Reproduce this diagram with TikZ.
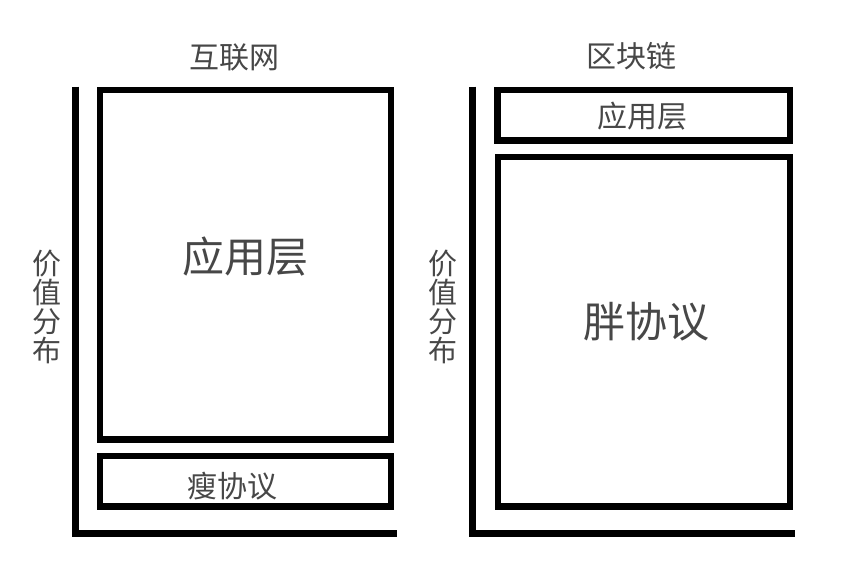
\documentclass[tikz,border=0pt]{standalone}
\usepackage{fontspec}
\newfontfamily\cjk{Noto Sans CJK SC}
\begin{document}
\begin{tikzpicture}[x=1pt,y=-1pt,
  thick box/.style={draw=black,line width=6.5pt},
  axisline/.style={draw=black,line width=7pt,line join=miter},
  lbl/.style={font=\cjk,text=black!72,inner sep=0pt,text height=0.76em,text depth=0pt},
  big/.style={lbl,font=\cjk\fontsize{42}{42}\selectfont},
  mid/.style={lbl,font=\cjk\fontsize{30}{30}\selectfont},
  vert/.style={lbl,font=\cjk\fontsize{29}{29.2}\selectfont,align=center}]
\useasboundingbox (0,0) rectangle (868,582);
% left: internet
\coordinate (la) at (75.5,86.5);
\coordinate (lc) at (75.5,533.5);
\coordinate (le) at (396.5,533.5);
\draw[axisline] (la) -- (lc) -- (le);
\draw[thick box] (100,90) rectangle (391,439.5);
\draw[thick box] (100,456) rectangle (391,506.5);
\node[mid] (t1) at (234,65) {互联网};
\node[big] (app1) at (245,269) {应用层};
\node[mid] (thin) at (232,493.5) {瘦协议};
\node[vert] (v1) at (46.5,358) {价\\值\\分\\布};
% right: blockchain
\coordinate (ra) at (472,86.5);
\coordinate (rc) at (472,533.5);
\coordinate (re) at (795,533.5);
\draw[axisline] (ra) -- (rc) -- (re);
\draw[thick box] (497.5,90) rectangle (790,140.5);
\draw[thick box] (498,157) rectangle (790,506.5);
\node[mid] (t2) at (631,64) {区块链};
\node[mid] (app2) at (642,124) {应用层};
\node[big] (fat) at (646,334) {胖协议};
\node[vert] (v2) at (443,358) {价\\值\\分\\布};
\end{tikzpicture}
\end{document}
